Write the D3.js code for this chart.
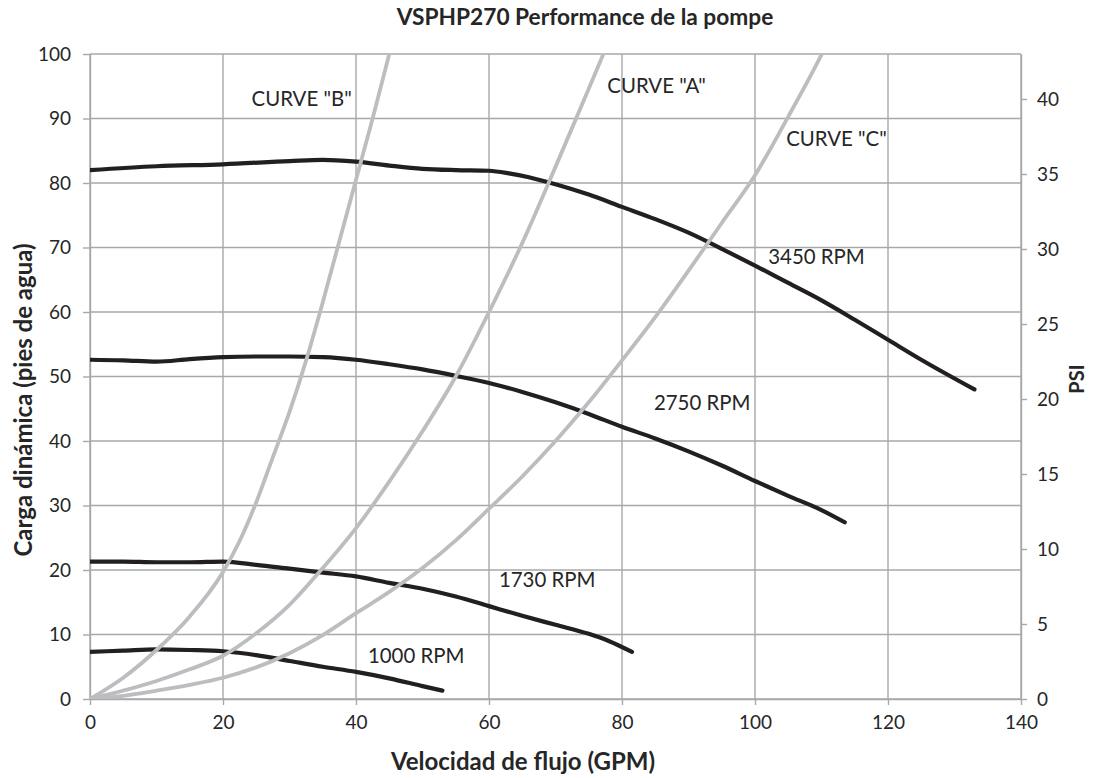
<!DOCTYPE html>
<html>
<head>
<meta charset="utf-8">
<script src="https://cdn.jsdelivr.net/npm/d3@7"></script>
<style>
  html, body { margin: 0; padding: 0; background: #fff; }
  svg { display: block; font-family: Lato, "Open Sans", sans-serif; }
</style>
</head>
<body>
<svg id="chart" width="1096" height="778"></svg>
<script>
// Pump curves: [flow GPM, head ft]
const rpm3450 = [[0,82],[10,82.6],[20,82.9],[30,83.4],[35,83.6],[40,83.3],[45,82.7],[50,82.2],[55,82],[60,81.9],[63,81.5],[66,80.9],[70,79.8],[75,78.2],[80,76.3],[85,74.4],[90,72.3],[95,69.8],[100,67.2],[105,64.5],[110,61.8],[115,58.8],[120,55.7],[125,52.6],[133,48]];
const rpm2750 = [[0,52.6],[5,52.5],[10,52.3],[15,52.7],[20,53],[25,53.1],[30,53.1],[35,53],[40,52.6],[45,51.9],[50,51.1],[55,50.1],[60,49],[65,47.6],[70,46],[75,44.2],[80,42.2],[85,40.4],[90,38.4],[95,36.2],[100,33.8],[105,31.5],[110,29.3],[113.5,27.4]];
const rpm1730 = [[0,21.3],[5,21.3],[10,21.2],[15,21.2],[20,21.3],[25,20.8],[30,20.2],[35,19.6],[40,19],[45,18],[50,17.1],[55,15.9],[60,14.4],[65,12.9],[70,11.5],[75,10.1],[78,9],[81.5,7.3]];
const rpm1000 = [[0,7.3],[5,7.5],[10,7.7],[15,7.6],[20,7.4],[25,6.8],[30,5.9],[35,5],[40,4.2],[45,3.2],[50,2.0],[53,1.3]];

// System curves
const curveB = [[0,0],[5,3.3],[10,7.6],[15,12.8],[20,19.7],[22.5,24.5],[25,30.5],[27.5,37.5],[30,44.5],[32.5,52.5],[35,61.5],[37.5,71],[40,80.5],[42.5,90],[45,100],[46,104]];
const curveA = [[0,0],[5,1.3],[10,2.8],[15,4.6],[20,6.7],[25,10.2],[30,14.6],[35,20.3],[40,26.5],[45,33.7],[50,41.5],[55,50],[60,60],[65,70.7],[70,82.5],[75,94.6],[77.2,100],[78,102]];
const curveC = [[0,0],[5,0.5],[10,1.3],[15,2.2],[20,3.3],[25,4.9],[30,7.1],[35,9.9],[40,13.3],[45,16.6],[50,20.3],[55,24.6],[60,29.5],[65,34.5],[70,40],[75,46],[80,52.5],[85,59.2],[90,66.4],[95,73.8],[100,81.2],[105,90.3],[110,99.9],[111,102]];

// Labels: [text, GPM at text start, ft at baseline]
const pumpLabels = [["3450 RPM",102,67.5],["2750 RPM",84.8,44.8],["1730 RPM",61.5,17.4],["1000 RPM",41.8,5.55]];
const curveLabels = [['CURVE "B"',24.3,92],['CURVE "A"',77.8,94.0],['CURVE "C"',104.7,85.7]];

const xTicks = [0,20,40,60,80,100,120,140];
const yTicks = [0,10,20,30,40,50,60,70,80,90,100];
const psiTicks = [0,5,10,15,20,25,30,35,40];

const titleText = "VSPHP270 Performance de la pompe";
const xTitle = "Velocidad de flujo (GPM)";
const yTitle = "Carga dinámica (pies de agua)";
const y2Title = "PSI";

const svg = d3.select("#chart");
const plotL = 90, plotR = 1021, plotT = 54, plotB = 699;

const x = d3.scaleLinear().domain([0,140]).range([plotL,plotR]);
const y = d3.scaleLinear().domain([0,100]).range([plotB,plotT]);
const y2 = d3.scaleLinear().domain([0,43]).range([plotB,plotT]);

const gridColor = "#A8A8A8";
const textColor = "#262626";

// Gridlines
const grid = svg.append("g");
grid.selectAll("line.h").data(yTicks).join("line")
  .attr("x1", plotL).attr("x2", plotR)
  .attr("y1", d => y(d)).attr("y2", d => y(d))
  .attr("stroke", gridColor).attr("stroke-width", 1.4);
grid.selectAll("line.v").data(xTicks).join("line")
  .attr("x1", d => x(d)).attr("x2", d => x(d))
  .attr("y1", plotT).attr("y2", plotB)
  .attr("stroke", gridColor).attr("stroke-width", 1.4);

// Axes
function styleAxis(g) {
  g.select(".domain").attr("stroke", gridColor).attr("stroke-width", 1.4);
  g.selectAll(".tick line").attr("stroke", gridColor).attr("stroke-width", 1.4);
  g.selectAll(".tick text").attr("fill", textColor).style("font-size", "19px").style("font-family", "Lato, sans-serif");
}
svg.append("g").attr("transform", `translate(0,${plotB})`)
  .call(d3.axisBottom(x).tickValues(xTicks).tickSize(6).tickSizeOuter(0).tickPadding(11))
  .call(styleAxis);
svg.append("g").attr("transform", `translate(${plotL},0)`)
  .call(d3.axisLeft(y).tickValues(yTicks).tickSize(7).tickSizeOuter(0).tickPadding(12))
  .call(styleAxis);
svg.append("g").attr("transform", `translate(${plotR},0)`)
  .call(d3.axisRight(y2).tickValues(psiTicks).tickSize(6).tickSizeOuter(0).tickPadding(10))
  .call(styleAxis);

// Clip region for the curves
svg.append("clipPath").attr("id", "plotClip")
  .append("rect").attr("x", plotL).attr("y", plotT).attr("width", plotR-plotL).attr("height", plotB-plotT);

const line = d3.line().x(d => x(d[0])).y(d => y(d[1])).curve(d3.curveMonotoneX);
const plot = svg.append("g").attr("clip-path", "url(#plotClip)");

[rpm3450, rpm2750, rpm1730, rpm1000].forEach(s => {
  plot.append("path").attr("d", line(s)).attr("fill", "none")
    .attr("stroke", "#231F20").attr("stroke-width", 4.2)
    .attr("stroke-linecap", "round").attr("stroke-linejoin", "round");
});
[curveB, curveA, curveC].forEach(s => {
  plot.append("path").attr("d", line(s)).attr("fill", "none")
    .attr("stroke", "#BCBDC0").attr("stroke-width", 3.8)
    .attr("stroke-linecap", "round").attr("stroke-linejoin", "round");
});

// In-plot labels
const labels = svg.append("g").attr("fill", textColor).style("font-size", "20.4px");
labels.selectAll("text.p").data(pumpLabels.concat(curveLabels)).join("text")
  .attr("x", d => x(d[1])).attr("y", d => y(d[2]))
  .text(d => d[0]);

// Titles
svg.append("text").attr("x", 585).attr("y", 25).attr("text-anchor", "middle")
  .attr("fill", textColor).style("font-size", "22.7px").style("font-weight", "bold").text(titleText);
svg.append("text").attr("x", 523).attr("y", 770).attr("text-anchor", "middle")
  .attr("fill", textColor).style("font-size", "24px").style("font-weight", "bold").text(xTitle);
svg.append("text").attr("transform", "translate(31.5,400) rotate(-90)").attr("text-anchor", "middle")
  .attr("fill", textColor).style("font-size", "24px").style("font-weight", "bold").text(yTitle);
svg.append("text").attr("transform", "translate(1084,379) rotate(-90)").attr("text-anchor", "middle")
  .attr("fill", textColor).style("font-size", "20px").style("font-weight", "bold").text(y2Title);
</script>
</body>
</html>
